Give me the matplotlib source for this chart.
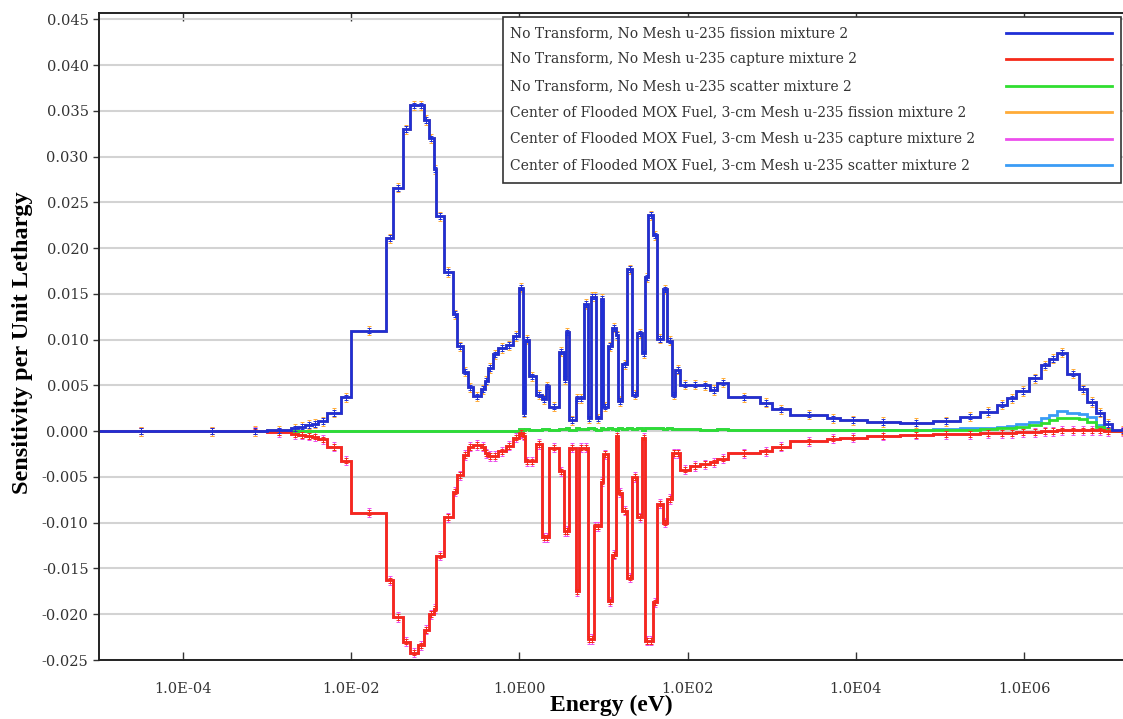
import numpy as np
import matplotlib
matplotlib.use("Agg")
import matplotlib.pyplot as plt
from matplotlib.lines import Line2D
from matplotlib.patches import Rectangle
from matplotlib.ticker import FixedLocator, FuncFormatter, NullLocator

# group boundaries (eV)
energy_edges = [
    1e-5, 1e-4, 5e-4, 1e-3, 1.93e-3, 2.34e-3, 2.83e-3, 3.43e-3, 4.04e-3, 5.16e-3,
    7.57e-3, 1.0e-2, 2.59e-2, 3.13e-2, 4.11e-2, 4.98e-2, 6.19e-2, 7.29e-2, 8.37e-2, 9.6e-2,
    0.101, 0.126, 0.161, 0.18, 0.212, 0.243, 0.278, 0.346, 0.386, 0.419,
    0.481, 0.551, 0.686, 0.83, 0.978, 1.091, 1.153, 1.286, 1.556, 1.834,
    2.046, 2.221, 2.917, 3.345, 3.532, 3.834, 4.642, 5.04, 5.775, 6.442,
    6.993, 7.591, 8.017, 9.188, 9.97, 11.13, 12.75, 14.22, 15.02, 16.76,
    19.21, 22.02, 25.24, 28.93, 31.4, 34.09, 39.07, 43.6, 51.36, 57.28,
    65.67, 71.29, 81.71, 107.4, 141.1, 185.4, 224.5, 303.1, 726.6, 1008,
    1649, 4529, 6461, 1.351e4, 3.326e4, 8.194e4, 1.713e5, 2.958e5, 4.706e5, 6.183e5,
    8.123e5, 1.159e6, 1.609e6, 2.001e6, 2.49e6, 3.272e6, 4.542e6, 5.652e6, 7.223e6, 8.989e6,
    1.118e7, 2e7,
]

fission = [
    0.0, 0.0, 0.00003, 0.0001, 0.0003, 0.0005, 0.0007, 0.0008, 0.0011, 0.0020,
    0.0037, 0.0110, 0.0211, 0.0266, 0.0330, 0.0356, 0.0356, 0.0340, 0.0320, 0.0286,
    0.0235, 0.0174, 0.0128, 0.0093, 0.0065, 0.0048, 0.0038, 0.0046, 0.0055, 0.0069,
    0.0084, 0.0091, 0.0094, 0.0104, 0.0157, 0.0020, 0.0100, 0.0060, 0.0040, 0.0035,
    0.0049, 0.0027, 0.0087, 0.0057, 0.0108, 0.0012, 0.0036, 0.0036, 0.0139, 0.0014,
    0.0147, 0.0147, 0.0014, 0.0145, 0.0027, 0.0093, 0.0113, 0.0105, 0.0033, 0.0073,
    0.0177, 0.0040, 0.0107, 0.0085, 0.0168, 0.0236, 0.0214, 0.0101, 0.0155, 0.0099,
    0.0040, 0.0067, 0.0051, 0.0051, 0.0050, 0.0045, 0.0053, 0.0037, 0.0031, 0.0024,
    0.0018, 0.0014, 0.0012, 0.0010, 0.0009, 0.0011, 0.0016, 0.0021, 0.0029, 0.0036,
    0.0044, 0.0058, 0.0072, 0.0079, 0.0086, 0.0063, 0.0046, 0.0032, 0.0020, 0.0008,
    0.0001,
]

capture = [
    0.0, 0.0, -0.00002, -0.0001, -0.0003, -0.0004, -0.0005, -0.0006, -0.0009, -0.0017,
    -0.0032, -0.0089, -0.0163, -0.0203, -0.0230, -0.0242, -0.0234, -0.0217, -0.0200, -0.0194,
    -0.0136, -0.0094, -0.0066, -0.0048, -0.0026, -0.0017, -0.0015, -0.0017, -0.0024, -0.0027,
    -0.0027, -0.0022, -0.0016, -0.0007, -0.0002, -0.0005, -0.0033, -0.0033, -0.0014, -0.0116,
    -0.0116, -0.0018, -0.0044, -0.0109, -0.0109, -0.0018, -0.0175, -0.0018, -0.0018, -0.0227,
    -0.0227, -0.0104, -0.0104, -0.0055, -0.0025, -0.0186, -0.0135, -0.0005, -0.0067, -0.0087,
    -0.0160, -0.0050, -0.0094, -0.0007, -0.0229, -0.0229, -0.0187, -0.0079, -0.0100, -0.0074,
    -0.0024, -0.0024, -0.0042, -0.0038, -0.0036, -0.0034, -0.0030, -0.0024, -0.0022, -0.0017,
    -0.0011, -0.0008, -0.0007, -0.0005, -0.0004, -0.0003, -0.0003, -0.0002, -0.0002, -0.0002,
    -0.0001, -0.0001, 0.0, 0.0, 0.0001, 0.0001, 0.0001, 0.0001, 0.0001, 0.0,
    0.0,
]

scatter = [
    0.0, 0.0, 0.0, 0.0, 0.0, 0.0, 0.0, 0.0, 0.0, 0.0,
    0.0, 0.0, 0.0, 0.0, 0.0, 0.0, 0.0, 0.0, 0.0, 0.0,
    0.0, 0.0, 0.0, 0.0, 0.0, 0.0, 0.0, 0.0, 0.0, 0.0,
    0.0, 0.0, 0.0, 0.0, 0.0002, 0.0001, 0.0002, 0.0001, 0.0001, 0.0002,
    0.0002, 0.0001, 0.0002, 0.0002, 0.0003, 0.0001, 0.0003, 0.0002, 0.0002, 0.0004,
    0.0004, 0.0002, 0.0001, 0.0003, 0.0002, 0.0003, 0.0002, 0.0001, 0.0003, 0.0002,
    0.0004, 0.0002, 0.0003, 0.0001, 0.0003, 0.0003, 0.0004, 0.0003, 0.0002, 0.0003,
    0.0002, 0.0002, 0.0002, 0.0002, 0.0001, 0.0001, 0.0002, 0.0001, 0.0001, 0.0001,
    0.0001, 0.0001, 0.0001, 0.0001, 0.0001, 0.0001, 0.0001, 0.0002, 0.0003, 0.0004,
    0.0005, 0.0007, 0.0009, 0.0012, 0.0014, 0.0014, 0.0013, 0.0010, 0.0005, 0.0001,
    0.0,
]

mox_scatter = [
    0.0, 0.0, 0.0, 0.0, 0.0, 0.0, 0.0, 0.0, 0.0, 0.0,
    0.0, 0.0, 0.0, 0.0, 0.0, 0.0, 0.0, 0.0, 0.0, 0.0,
    0.0, 0.0, 0.0, 0.0, 0.0, 0.0, 0.0, 0.0, 0.0, 0.0,
    0.0, 0.0, 0.0, 0.0, 0.0002, 0.0001, 0.0002, 0.0001, 0.0001, 0.0002,
    0.0002, 0.0001, 0.0002, 0.0002, 0.0003, 0.0001, 0.0003, 0.0002, 0.0002, 0.0004,
    0.0004, 0.0002, 0.0001, 0.0003, 0.0002, 0.0003, 0.0002, 0.0001, 0.0003, 0.0002,
    0.0004, 0.0002, 0.0003, 0.0001, 0.0003, 0.0003, 0.0004, 0.0003, 0.0002, 0.0003,
    0.0002, 0.0002, 0.0002, 0.0002, 0.0001, 0.0001, 0.0002, 0.0001, 0.0001, 0.0001,
    0.0001, 0.0001, 0.0001, 0.0001, 0.0001, 0.0002, 0.0003, 0.0004, 0.0005, 0.0006,
    0.0008, 0.0010, 0.0014, 0.0018, 0.0022, 0.0020, 0.0019, 0.0016, 0.0007, 0.0002,
    0.0,
]

# 3-cm mesh fission/capture results lie on top of the no-mesh ones at this scale
mox_fission = list(fission)
mox_capture = list(capture)

labels = [
    "No Transform, No Mesh u-235 fission mixture 2",
    "No Transform, No Mesh u-235 capture mixture 2",
    "No Transform, No Mesh u-235 scatter mixture 2",
    "Center of Flooded MOX Fuel, 3-cm Mesh u-235 fission mixture 2",
    "Center of Flooded MOX Fuel, 3-cm Mesh u-235 capture mixture 2",
    "Center of Flooded MOX Fuel, 3-cm Mesh u-235 scatter mixture 2",
]
colors = ["#1f2fd6", "#f52a1a", "#30de30", "#ffab38", "#ec4fec", "#3a9cf5"]
series = [fission, capture, scatter, mox_fission, mox_capture, mox_scatter]

edges = np.array(energy_edges)
centers = np.sqrt(edges[:-1] * edges[1:])

W, H = 1123, 719
fig = plt.figure(figsize=(W / 100, H / 100), dpi=100)
ax = fig.add_axes([99 / W, 59 / H, 1024 / W, 647 / H])

# mesh results underneath, scatter -> capture -> fission, fission on top
order = [5, 4, 3, 2, 1, 0]
for rank, i in enumerate(order):
    vals, col = series[i], colors[i]
    z = 2 + rank * 0.1
    ax.stairs(vals, edges, color=col, lw=2.0, baseline=None, zorder=z)
    if i in (0, 1):
        ax.errorbar(centers, vals, yerr=0.0003, fmt="none", ecolor=col,
                    elinewidth=0.7, capsize=1.6, capthick=0.7, zorder=z)
    elif i in (3, 4):
        ax.errorbar(centers, vals, yerr=0.0005, fmt="none", ecolor=col,
                    elinewidth=0.7, capsize=1.6, capthick=0.7, zorder=z)

ax.set_xscale("log")
ax.set_xlim(1e-5, 1.5e7)
ax.set_ylim(-0.025, 0.0457)

ax.xaxis.set_major_locator(FixedLocator([1e-4, 1e-2, 1e0, 1e2, 1e4, 1e6]))
ax.xaxis.set_minor_locator(NullLocator())


def efmt(v, pos):
    p = int(round(np.log10(v)))
    return f"1.0E{p:03d}" if p < 0 else f"1.0E{p:02d}"


ax.xaxis.set_major_formatter(FuncFormatter(efmt))
ax.yaxis.set_major_locator(FixedLocator(np.arange(-0.025, 0.0451, 0.005)))
ax.yaxis.set_major_formatter(FuncFormatter(lambda v, p: f"{v + 0.0:.3f}"))

ax.tick_params(axis="x", direction="in", length=6, width=1, top=True, pad=16,
               labelsize=10.5, colors="#333333")
ax.tick_params(axis="y", direction="out", length=4, width=1, labelsize=10.5,
               colors="#333333")
for lab in ax.get_xticklabels() + ax.get_yticklabels():
    lab.set_family("DejaVu Serif")

ax.yaxis.grid(True, color="#d3d3d3", lw=1.5)
ax.set_axisbelow(True)
for s in ["left", "bottom", "top"]:
    ax.spines[s].set_linewidth(1.4)
    ax.spines[s].set_color("#222222")
ax.spines["right"].set_visible(False)

ax.set_xlabel("Energy (eV)", family="Liberation Serif", fontsize=17, fontweight="bold")
ax.set_ylabel("Sensitivity per Unit Lethargy", family="Liberation Serif", fontsize=17.5,
              fontweight="bold")
ax.yaxis.set_label_coords(-0.064, 0.49)
ax.xaxis.set_label_coords(0.5, -0.054)


# legend box drawn by hand: text left-aligned, sample lines on the right
def px(x, y):
    return x / W, 1 - y / H


x0, y0 = px(503, 183)
x1, y1 = px(1121, 17)
fig.add_artist(Rectangle((x0, y0), x1 - x0, y1 - y0, transform=fig.transFigure,
                         facecolor="white", edgecolor="#333333", lw=1.2, zorder=10))
for k, (lab, col) in enumerate(zip(labels, colors)):
    ty = 33 + 26.4 * k
    tx, tyf = px(510, ty)
    fig.text(tx, tyf, lab, family="DejaVu Serif", fontsize=10, color="#333333",
             ha="left", va="center", zorder=11)
    lx0, ly = px(1006, ty)
    lx1, _ = px(1112, ty)
    fig.add_artist(Line2D([lx0, lx1], [ly, ly], transform=fig.transFigure,
                          color=col, lw=2, zorder=11))

fig.savefig("out.png", dpi=100)
